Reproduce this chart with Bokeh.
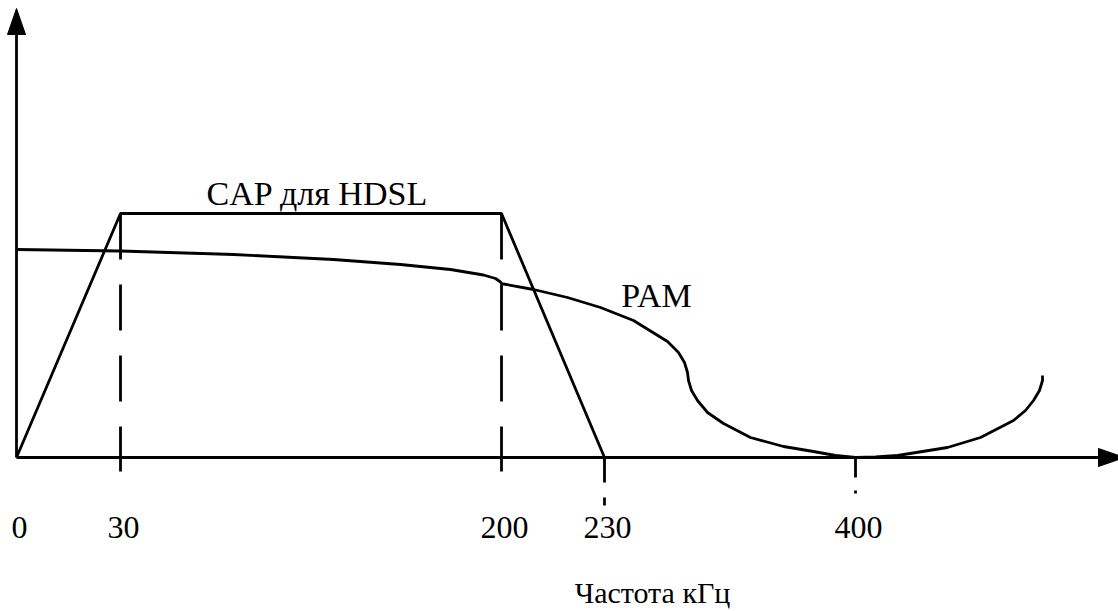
from bokeh.plotting import figure
from bokeh.models import Range1d
from bokeh.embed import file_html
from bokeh.resources import INLINE
from bokeh.core.properties import value

# Schematic frequency axis (positions in schematic units, labels in kHz)
tick_x = [0, 104, 485, 588, 839]
tick_labels = ["0", "30", "200", "230", "400"]

# CAP for HDSL trapezoid spectrum
cap_x = [0, 104, 485, 588]
cap_y = [0, 244, 244, 0]

# PAM spectrum curve
pam_x = [0, 104, 217, 317, 384, 434, 467, 479, 484, 485, 487, 517, 551, 584,
         617, 651, 662, 668, 671, 672, 675, 681, 691, 707, 734, 767, 797, 819,
         839, 859, 881, 931, 964, 997, 1009, 1017, 1023, 1026, 1026]
pam_y = [208, 206.5, 203, 198, 193, 188, 182.5, 179, 175.5, 174, 173.5, 168, 160, 150,
         137, 116, 105, 95, 85, 77, 67, 57, 45, 34, 20, 11, 6, 2,
         0, 0.5, 2, 10, 20, 37, 47, 57, 67, 77, 82]

# Axis geometry
y_top = 449
x_end = 1108
head_len = 26
head_half = 9

FONT = value("Liberation Serif")

p = figure(width=1118, height=611, x_range=Range1d(-16, 1102), y_range=Range1d(-154, 457),
           output_backend="svg", toolbar_location=None,
           x_axis_location=None, y_axis_location=None, min_border=0)
p.outline_line_color = None
p.grid.visible = False
p.background_fill_color = "white"
p.border_fill_color = "white"

LW = 2.8
# axes
p.line([0, 0], [0, y_top - head_len], line_color="black", line_width=LW)
p.patch([-head_half, head_half, 0], [y_top - head_len, y_top - head_len, y_top],
        fill_color="black", line_color="black", line_width=1)
p.line([0, x_end - head_len], [0, 0], line_color="black", line_width=LW)
p.patch([x_end - head_len, x_end - head_len, x_end], [-head_half, head_half, 0],
        fill_color="black", line_color="black", line_width=1)

# dashed markers at 30 and 200 kHz
p.segment(x0=[tick_x[1], tick_x[2]], y0=[cap_y[1], cap_y[2]],
          x1=[tick_x[1], tick_x[2]], y1=[-14, -14],
          line_color="black", line_width=LW, line_dash="46 25")
# markers at 230 and 400 kHz
p.line([tick_x[3], tick_x[3]], [0, -48], line_color="black", line_width=LW, line_dash="25 15")
p.line([tick_x[4], tick_x[4]], [0, -36], line_color="black", line_width=LW, line_dash="20 13")

# CAP trapezoid
p.line(cap_x, cap_y, line_color="black", line_width=LW)
# PAM curve
p.line(pam_x, pam_y, line_color="black", line_width=LW, line_join="round")

# texts
p.text(x=[301], y=[264], text=["CAP для HDSL"], text_font=FONT, text_font_size="34px",
       text_align="center", text_baseline="alphabetic", text_color="black")
p.text(x=[640], y=[162], text=["PAM"], text_font=FONT, text_font_size="34px",
       text_align="center", text_baseline="alphabetic", text_color="black")
p.text(x=tick_x, y=[-70] * len(tick_x), text=tick_labels, text_font=FONT, text_font_size="32px",
       text_align="center", text_baseline="alphabetic", text_color="black", x_offset=3)
p.text(x=[636], y=[-135], text=["Частота кГц"], text_font=FONT, text_font_size="30px",
       text_align="center", text_baseline="alphabetic", text_color="black")

open("out.html", "w").write(file_html(p, INLINE))
